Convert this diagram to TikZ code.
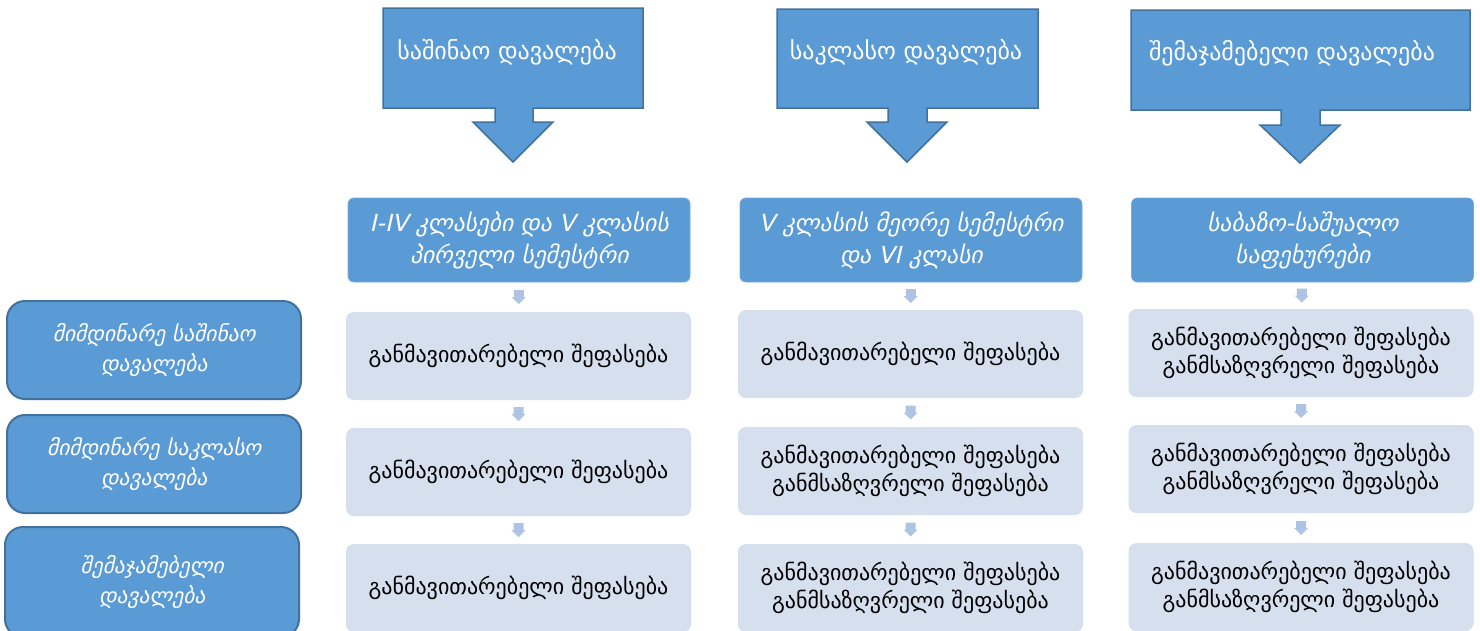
\documentclass[tikz,border=0pt]{standalone}
\usepackage{fontspec}
\setmainfont{DejaVu Sans}
\newfontfamily\geoit[FakeSlant=0.22]{DejaVu Sans}
\usetikzlibrary{calc}
\definecolor{dblue}{HTML}{5B9BD5}
\definecolor{dborder}{HTML}{41719C}
\definecolor{lblue}{HTML}{D5DFEE}
\definecolor{arrc}{HTML}{AFC4E4}
\begin{document}
\begin{tikzpicture}[x=1pt,y=-1pt,
  callout/.style={draw=dborder, line width=1.5pt, fill=dblue},
  callouttext/.style={text=white, font=\fontsize{24}{28}\selectfont},
  hdr/.style={fill=dblue, draw=dblue!85!white, line width=0.8pt, rounded corners=6pt, text=white,
    minimum width=342pt, minimum height=84pt, align=center, inner sep=0pt,
    font=\geoit\fontsize{23.5}{32}\selectfont},
  side/.style={fill=dblue, draw=dborder, line width=2pt, rounded corners=18pt, text=white,
    minimum width=294pt, minimum height=98pt, align=center, inner sep=0pt,
    font=\geoit\fontsize{21.5}{30}\selectfont},
  cell/.style={fill=lblue, rounded corners=8pt, text=black,
    minimum width=345pt, minimum height=88pt, align=center, inner sep=0pt,
    font=\fontsize{22}{28}\selectfont},
  sarrow/.pic={\fill[arrc] (-5,-7) -- (5,-7) -- (5,0) -- (7,0) -- (0,7) -- (-7,0) -- (-5,0) -- cycle;}
]
\useasboundingbox (0,0) rectangle (1480,630);
\fill[white] (0,0) rectangle (1480,630);

% top callouts
\draw[callout] (383,8) -- (643,8) -- (643,108) -- (533,108) -- (533,122) -- (553,122)
  -- (513,162) -- (473,122) -- (495,122) -- (495,108) -- (383,108) -- cycle;
\node[callouttext] (c1) at (507,52) {საშინაო დავალება};
\draw[callout] (777,9) -- (1038,9) -- (1038,108) -- (927,108) -- (927,122) -- (947,122)
  -- (907,162) -- (867,122) -- (888,122) -- (888,108) -- (777,108) -- cycle;
\node[callouttext] (c2) at (906,52) {საკლასო დავალება};
\draw[callout] (1131,10) -- (1470,10) -- (1470,110) -- (1320,110) -- (1320,125) -- (1340,125)
  -- (1300,163) -- (1260,125) -- (1281,125) -- (1281,110) -- (1131,110) -- cycle;
\node[callouttext] (c3) at (1292,53) {შემაჯამებელი დავალება};

% column headers
\node[hdr] (h1) at (519,240) {I-IV კლასები და V კლასის\\პირველი სემესტრი};
\node[hdr] (h2) at (911,240) {V კლასის მეორე სემესტრი\\და VI კლასი};
\node[hdr] (h3) at (1302.5,240) {საბაზო-საშუალო\\საფეხურები};

% side boxes
\node[side] (s1) at (154,350) {მიმდინარე საშინაო\\დავალება};
\node[side] (s2) at (154,464) {მიმდინარე საკლასო\\დავალება};
\node[side, minimum height=110pt] (s3) at (152,582) {შემაჯამებელი\\დავალება};

% cells
\node[cell] (a1) at (518.5,356) {განმავითარებელი შეფასება};
\node[cell] (a2) at (518.5,472) {განმავითარებელი შეფასება};
\node[cell] (a3) at (518.5,588) {განმავითარებელი შეფასება};
\node[cell] (b1) at (910.5,354) {განმავითარებელი შეფასება};
\node[cell] (b2) at (910.5,471) {განმავითარებელი შეფასება\\განმსაზღვრელი შეფასება};
\node[cell] (b3) at (910.5,588) {განმავითარებელი შეფასება\\განმსაზღვრელი შეფასება};
\node[cell] (d1) at (1301,353) {განმავითარებელი შეფასება\\განმსაზღვრელი შეფასება};
\node[cell] (d2) at (1301,469) {განმავითარებელი შეფასება\\განმსაზღვრელი შეფასება};
\node[cell] (d3) at (1301,587) {განმავითარებელი შეფასება\\განმსაზღვრელი შეფასება};

% small arrows
\foreach \u/\v in {h1/a1,a1/a2,a2/a3,h2/b1,b1/b2,b2/b3,h3/d1,d1/d2,d2/d3}{
  \path ($(\u.south)!0.5!(\v.north)$) pic {sarrow};
}
\end{tikzpicture}
\end{document}
